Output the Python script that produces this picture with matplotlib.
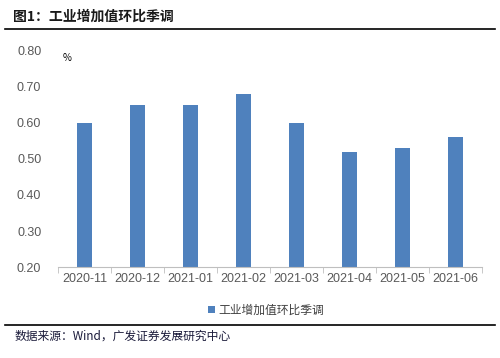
import numpy as np
import matplotlib.pyplot as plt

plt.rcParams['font.family'] = ['Noto Sans CJK SC', 'DejaVu Sans']

months = ['2020-11', '2020-12', '2021-01', '2021-02', '2021-03', '2021-04', '2021-05', '2021-06']
values = [0.60, 0.65, 0.65, 0.68, 0.60, 0.52, 0.53, 0.56]
series_name = '工业增加值环比季调'

fig = plt.figure(figsize=(5, 3.58), dpi=100)
ax = fig.add_axes([0.116, 0.254, 0.848, 0.604])

x = np.arange(len(months))
ax.bar(x, values, width=0.3, color='#4F81BD', label=series_name, zorder=2)

ax.set_xlim(-0.5, len(months) - 0.5)
ax.set_ylim(0.2, 0.8)
ax.set_yticks(np.arange(0.2, 0.81, 0.1))
ax.set_yticklabels([f'{v:.2f}' for v in np.arange(0.2, 0.81, 0.1)])
ax.set_xticks(x)
ax.set_xticklabels(months)
ax.set_xticks(np.arange(-0.5, len(months), 1), minor=True)

for s in ['top', 'right', 'left']:
    ax.spines[s].set_visible(False)
ax.spines['bottom'].set_color('#BFBFBF')
ax.tick_params(axis='y', length=0, labelsize=9, colors='#595959', pad=12)
ax.tick_params(axis='x', which='major', length=0, labelsize=9, colors='#595959', pad=4)
ax.tick_params(axis='x', which='minor', length=4, color='#BFBFBF')
for lbl in ax.get_xticklabels() + ax.get_yticklabels():
    lbl.set_fontfamily(['Liberation Sans', 'DejaVu Sans'])

ax.text(0.01, 0.99, '%', transform=ax.transAxes, fontsize=7, va='top', ha='left')

leg = ax.legend(loc='upper center', bbox_to_anchor=(0.49, -0.12), frameon=False,
                fontsize=8.5, handlelength=0.6, handleheight=0.6, handletextpad=0.3)
for t in leg.get_texts():
    t.set_color('#404040')

fig.text(0.025, 0.952, '图1：工业增加值环比季调', fontsize=10, fontweight='bold', va='center', color='#1a1a1a')
fig.add_artist(plt.Line2D([0.01, 0.99], [0.918, 0.918], color='black', lw=1.2))
fig.add_artist(plt.Line2D([0.01, 0.99], [0.092, 0.092], color='black', lw=1.2))
fig.text(0.03, 0.062, '数据来源：Wind，广发证券发展研究中心', fontsize=8.5, va='center', color='#1a1a3a')

fig.savefig('out.png', dpi=100)
